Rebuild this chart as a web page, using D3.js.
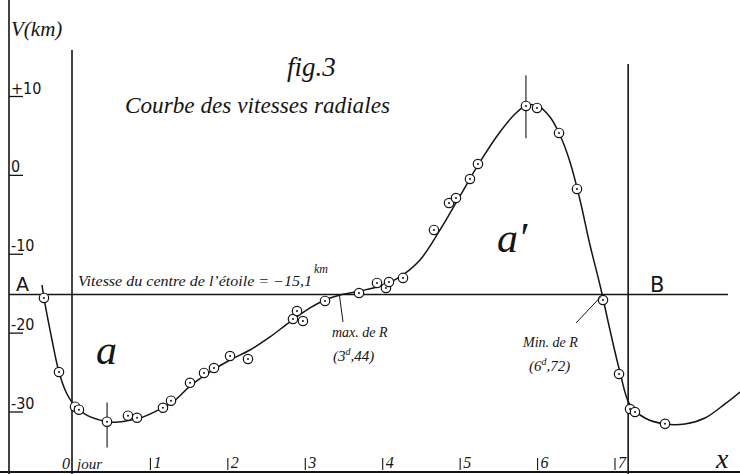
<!DOCTYPE html>
<html><head><meta charset="utf-8">
<script src="https://cdn.jsdelivr.net/npm/d3@7"></script>
<style>
body{margin:0;background:#fff}
svg{display:block}
text{font-family:"Liberation Serif",serif;font-style:italic;fill:#151515}
</style>
</head><body>
<svg id="c" width="740" height="474"></svg>
<script>
// Observed radial velocities (day, km/s)
const obsDay = [-0.375,-0.181,0.026,0.077,0.439,0.710,0.827,1.162,1.266,1.511,1.692,1.821,2.028,2.260,2.841,2.893,2.970,3.255,3.694,3.926,4.042,4.081,4.262,4.662,4.856,4.946,5.127,5.230,5.850,5.993,6.277,6.509,6.845,7.052,7.194,7.258,7.646];
const obsV   = [-15.54,-24.93,-29.33,-29.71,-31.23,-30.47,-30.73,-29.46,-28.57,-26.30,-25.05,-24.42,-22.90,-23.28,-18.21,-17.20,-18.46,-15.92,-14.91,-13.64,-14.28,-13.52,-13.00,-6.92,-3.50,-2.87,-0.46,1.44,8.80,8.55,5.38,-1.72,-15.80,-25.18,-29.62,-30.00,-31.50];
// Hand-drawn velocity curve
const curveDay = [-0.400,-0.375,-0.271,-0.181,-0.090,0.026,0.155,0.349,0.504,0.672,0.865,1.124,1.317,1.511,1.769,2.027,2.286,2.544,2.802,3.061,3.255,3.448,3.707,3.965,4.223,4.481,4.740,4.998,5.256,5.514,5.708,5.863,6.005,6.160,6.289,6.419,6.548,6.677,6.806,6.935,7.064,7.194,7.387,7.645,7.904,8.162,8.420,8.614];
const curveV   = [-13.90,-15.54,-20.87,-24.93,-27.46,-29.25,-30.27,-31.03,-31.29,-31.16,-30.78,-29.64,-28.50,-26.72,-24.92,-23.41,-22.14,-20.48,-18.58,-16.81,-15.80,-15.16,-14.66,-14.02,-12.86,-10.73,-6.92,-2.61,1.70,5.50,7.78,8.93,8.80,7.41,5.12,1.70,-3.12,-8.83,-13.90,-19.60,-24.93,-29.11,-30.76,-31.52,-31.52,-30.76,-28.98,-27.46];
const yTickValues = [10,0,-10,-20,-30];
const yTickLabels = ["+10","0","-10","-20","-30"];
const xTickValues = [1,2,3,4,5,6,7];
const xTickLabels = ["1","2","3","4","5","6","7"];
const centreVelocity = -15.1;
const periodDays = 7.17;
const maxRDay = 3.44;
const errorBarDays = [0.44, 5.85];
const errorBarLow  = [-34.5, 4.7];
const errorBarHigh = [-28.8, 12.7];

const svg = d3.select("#c");
const W = 740, H = 474;
const x = d3.scaleLinear().domain([0,7]).range([73,615]);
const y = d3.scaleLinear().domain([10,-30]).range([96.5,412]);
const ink = "#151515";

// frame lines
svg.append("line").attr("x1",9).attr("x2",9).attr("y1",0).attr("y2",H).attr("stroke",ink).attr("stroke-width",1.6);
svg.append("line").attr("x1",0).attr("x2",W).attr("y1",472).attr("y2",472).attr("stroke",ink).attr("stroke-width",1.8);
svg.append("line").attr("x1",x(0)-1).attr("x2",x(0)-1).attr("y1",50).attr("y2",H).attr("stroke",ink).attr("stroke-width",1.6);
svg.append("line").attr("x1",x(periodDays)).attr("x2",x(periodDays)).attr("y1",64).attr("y2",H).attr("stroke",ink).attr("stroke-width",1.6);
// centre-of-mass velocity line
svg.append("line").attr("x1",9).attr("x2",728).attr("y1",y(centreVelocity)).attr("y2",y(centreVelocity)).attr("stroke",ink).attr("stroke-width",1.6);

// y ticks
const yt = svg.append("g");
yTickValues.forEach((v,i)=>{
  yt.append("line").attr("x1",9).attr("x2",23).attr("y1",y(v)).attr("y2",y(v)).attr("stroke",ink).attr("stroke-width",1.3);
  yt.append("text").attr("x",11).attr("y",y(v)-3).attr("font-size",16).style("font-style","normal").style("font-family","DejaVu Sans Condensed, DejaVu Sans").text(yTickLabels[i]);
});

// x ticks
const xt = svg.append("g");
xTickValues.forEach((d,i)=>{
  xt.append("line").attr("x1",x(d)).attr("x2",x(d)).attr("y1",458).attr("y2",470).attr("stroke",ink).attr("stroke-width",1.1);
  xt.append("text").attr("x",x(d)+3).attr("y",468).attr("font-size",16).text(xTickLabels[i]);
});
xt.append("text").attr("x",x(0)-11).attr("y",469).attr("font-size",16).text("0");
xt.append("text").attr("x",x(0)+4).attr("y",469).attr("font-size",15).text("jour");
svg.append("text").attr("x",716).attr("y",468).attr("font-size",28).text("x");

// error bars
errorBarDays.forEach((d,i)=>{
  svg.append("line").attr("x1",x(d)).attr("x2",x(d)).attr("y1",y(errorBarHigh[i])).attr("y2",y(errorBarLow[i])).attr("stroke",ink).attr("stroke-width",1.1);
});

// curve
const pts = curveDay.map((d,i)=>[d,curveV[i]]);
svg.append("path").datum(pts)
  .attr("d", d3.line().x(d=>x(d[0])).y(d=>y(d[1])).curve(d3.curveCatmullRom.alpha(0.5)))
  .attr("fill","none").attr("stroke",ink).attr("stroke-width",1.5);

// observations
const obs = obsDay.map((d,i)=>[d,obsV[i]]);
const g = svg.append("g").selectAll("g").data(obs).join("g")
  .attr("transform",d=>`translate(${x(d[0])},${y(d[1])})`);
g.append("circle").attr("r",4.7).attr("fill","#fff").attr("stroke",ink).attr("stroke-width",1.2);
g.append("circle").attr("r",1).attr("fill",ink);

// texts
svg.append("text").attr("x",11).attr("y",36).attr("font-size",21).text("V(km)");
svg.append("text").attr("x",287).attr("y",76).attr("font-size",27).text("fig.3");
svg.append("text").attr("x",125).attr("y",113).attr("font-size",24).attr("textLength",265).attr("lengthAdjust","spacingAndGlyphs").text("Courbe des vitesses radiales");
svg.append("text").attr("x",78).attr("y",286).attr("font-size",14).attr("textLength",234).attr("lengthAdjust","spacingAndGlyphs").text("Vitesse du centre de l’étoile = −15,1");
svg.append("text").attr("x",314).attr("y",273).attr("font-size",12).text("km");
svg.append("text").attr("x",16).attr("y",291).attr("font-size",19).style("font-style","normal").style("font-family","DejaVu Sans").text("A");
svg.append("text").attr("x",650).attr("y",292).attr("font-size",21).style("font-style","normal").style("font-family","DejaVu Sans").text("B");
svg.append("text").attr("x",96).attr("y",364).attr("font-size",42).text("a");
svg.append("text").attr("x",497).attr("y",252).attr("font-size",42).text("a′");

// max / min annotations
svg.append("line").attr("x1",x(maxRDay)).attr("x2",343).attr("y1",y(centreVelocity)).attr("y2",322).attr("stroke",ink).attr("stroke-width",1);
svg.append("text").attr("x",332).attr("y",337).attr("font-size",14).text("max. de R");
const t1 = svg.append("text").attr("x",333).attr("y",361).attr("font-size",15);
t1.append("tspan").text("(3");
t1.append("tspan").attr("dy",-6).attr("font-size",10).text("d");
t1.append("tspan").attr("dy",6).text(",44)");
svg.append("line").attr("x1",601).attr("x2",576).attr("y1",y(centreVelocity)+2).attr("y2",323).attr("stroke",ink).attr("stroke-width",1);
svg.append("text").attr("x",523).attr("y",347).attr("font-size",14).text("Min. de R");
const t2 = svg.append("text").attr("x",529).attr("y",371).attr("font-size",15);
t2.append("tspan").text("(6");
t2.append("tspan").attr("dy",-6).attr("font-size",10).text("d");
t2.append("tspan").attr("dy",6).text(",72)");
</script>
</body></html>
